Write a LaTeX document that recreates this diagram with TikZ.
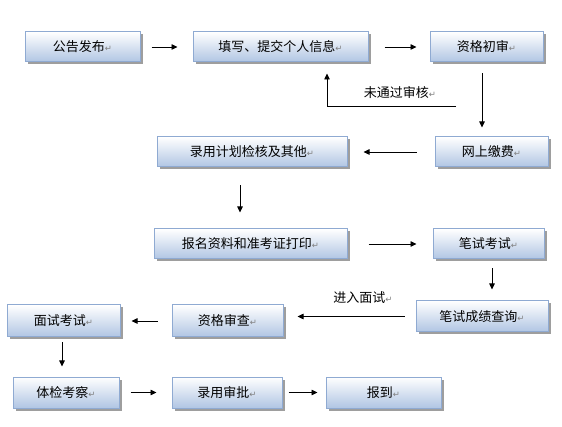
\documentclass[tikz,border=0pt]{standalone}
\usepackage{fontspec}
\setmainfont{Noto Sans CJK SC}
\newfontfamily\arrfont{DejaVu Sans}
\usetikzlibrary{arrows.meta,shadows}
\definecolor{boxborder}{HTML}{8FAAD2}
\definecolor{boxbottom}{HTML}{B0C5E3}
\newcommand{\rt}{{\arrfont\fontsize{8.5}{8.5}\selectfont\color{black!50}↵}}
\tikzset{
  box/.style={rectangle, draw=boxborder, line width=1pt, top color=white, bottom color=boxbottom,
    inner sep=0pt, font=\fontsize{13}{15}\selectfont,
    drop shadow={shadow xshift=2.5pt, shadow yshift=-2.5pt, fill=black!38, opacity=1}},
  arr/.style={draw=black, line width=0.8pt, -{Triangle[length=6pt,width=5.5pt]}},
  lbl/.style={font=\fontsize{13}{15}\selectfont, inner sep=0pt}
}
\begin{document}
\begin{tikzpicture}[x=1pt,y=-1pt]
\useasboundingbox (0,0) rectangle (562,427);
% nodes
\node[box, minimum width=115, minimum height=30] (n1) at (82.5,47) {公告发布\rt};
\node[box, minimum width=175, minimum height=30] (n2) at (280.5,47) {填写、提交个人信息\rt};
\node[box, minimum width=113, minimum height=30] (n3) at (486.5,47) {资格初审\rt};
\node[box, minimum width=113, minimum height=30] (n4) at (491.5,152) {网上缴费\rt};
\node[box, minimum width=190, minimum height=30] (n5) at (252,152) {录用计划检核及其他\rt};
\node[box, minimum width=193, minimum height=30] (n6) at (250.5,244) {报名资料和准考证打印\rt};
\node[box, minimum width=111, minimum height=30] (n7) at (488.5,244) {笔试考试\rt};
\node[box, minimum width=132, minimum height=31] (n8) at (482,316.5) {笔试成绩查询\rt};
\node[box, minimum width=111, minimum height=32] (n9) at (227.5,321) {资格审查\rt};
\node[box, minimum width=113, minimum height=32] (n10) at (63.5,321) {面试考试\rt};
\node[box, minimum width=106, minimum height=31] (n11) at (66,392.5) {体检考察\rt};
\node[box, minimum width=110, minimum height=31] (n12) at (227,392.5) {录用审批\rt};
\node[box, minimum width=115, minimum height=31] (n13) at (383.5,392.5) {报到\rt};
% labels
\node[lbl] (l1) at (400,93) {未通过审核\rt};
\node[lbl] (l2) at (363,298) {进入面试\rt};
\coordinate (fb) at (456,106);
% connectors
\draw[arr, shorten <=11pt, shorten >=15pt] (n1.east) -- (n2.west);
\draw[arr, shorten <=16pt, shorten >=13pt] (n2.east) -- (n3.west);
\draw[arr, shorten <=11pt, shorten >=9pt] ([xshift=-4.5pt]n3.south) -- ([xshift=-4.5pt]n3.south |- n4.north);
\draw[arr, shorten >=11pt] (fb) -| ([xshift=46.5pt]n2.south);
\draw[arr, shorten <=18pt, shorten >=16pt] (n4.west) -- (n5.east);
\draw[arr, shorten <=18pt, shorten >=16pt] ([xshift=-12pt]n5.south) -- ([xshift=-12pt]n5.south |- n6.north);
\draw[arr, shorten <=21pt, shorten >=16pt] (n6.east) -- (n7.west);
\draw[arr, shorten <=9pt, shorten >=11pt] ([xshift=3.5pt]n7.south) -- ([xshift=3.5pt]n7.south |- n8.north);
\draw[arr, shorten <=11pt, shorten >=14pt] (n8.west) -- (n8.west -| n9.east);
\draw[arr, shorten <=14pt, shorten >=11pt] (n9.west) -- (n10.east);
\draw[arr, shorten <=5pt, shorten >=10pt] ([xshift=-1.5pt]n10.south) -- ([xshift=-1.5pt]n10.south |- n11.north);
\draw[arr, shorten <=11pt, shorten >=15pt] (n11.east) -- (n12.west);
\draw[arr, shorten <=6pt, shorten >=8pt] (n12.east) -- (n13.west);
\end{tikzpicture}
\end{document}
